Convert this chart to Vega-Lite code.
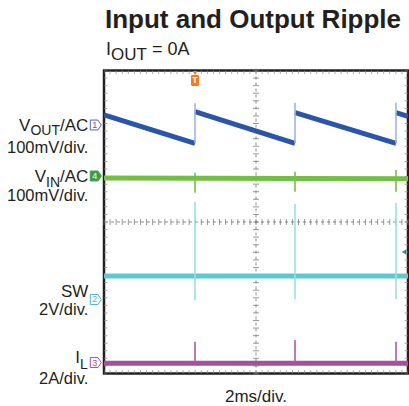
{
"$schema": "https://vega.github.io/schema/vega-lite/v6.json",
"width": 304, "height": 303,
"autosize": {"type": "none"},
"padding": {"left": 104, "top": 70.5, "right": 1, "bottom": 32.5},
"background": "#ffffff",
"config": {"view": {"stroke": "#231f20", "strokeWidth": 2.5}, "text": {"font": "Liberation Sans", "color": "#231f20", "baseline": "alphabetic"}},
"datasets": {
 "traces": [
  {"ch":"VOUT","seg":"a","t":0,"v":6.825},
  {"ch":"VOUT","seg":"a","t":2.993,"v":6.078},
  {"ch":"VOUT","seg":"b","t":2.993,"v":6.912},
  {"ch":"VOUT","seg":"b","t":6.283,"v":6.078},
  {"ch":"VOUT","seg":"c","t":6.283,"v":6.886},
  {"ch":"VOUT","seg":"c","t":9.605,"v":6.078},
  {"ch":"VOUT","seg":"d","t":9.605,"v":6.886},
  {"ch":"VOUT","seg":"d","t":10,"v":6.79},
  {"ch":"VIN","seg":"e","t":0,"v":5.16},
  {"ch":"VIN","seg":"e","t":10,"v":5.14},
  {"ch":"SW","seg":"f","t":0,"v":2.574},
  {"ch":"SW","seg":"f","t":10,"v":2.574},
  {"ch":"IL","seg":"g","t":0,"v":0.269},
  {"ch":"IL","seg":"g","t":10,"v":0.269}
 ],
 "edges": [
  {"ch":"VOUT","t":2.993,"v1":6.078,"v2":7.134},
  {"ch":"VOUT","t":6.283,"v1":6.078,"v2":7.15},
  {"ch":"VOUT","t":9.605,"v1":6.078,"v2":7.15},
  {"ch":"VIN","t":2.993,"v1":4.774,"v2":5.302},
  {"ch":"VIN","t":6.283,"v1":4.8,"v2":5.33},
  {"ch":"VIN","t":9.605,"v1":4.8,"v2":5.37},
  {"ch":"SW","t":2.993,"v1":1.94,"v2":4.536},
  {"ch":"SW","t":6.283,"v1":1.96,"v2":4.475},
  {"ch":"SW","t":9.605,"v1":1.96,"v2":4.51},
  {"ch":"IL","t":2.993,"v1":0.269,"v2":0.84},
  {"ch":"IL","t":6.283,"v1":0.269,"v2":0.885},
  {"ch":"IL","t":9.605,"v1":0.269,"v2":0.84}
 ],
 "grat": [{"g":0},{"g":0.2},{"g":0.4},{"g":0.6},{"g":0.8},{"g":1},{"g":1.2},{"g":1.4},{"g":1.6},{"g":1.8},{"g":2},{"g":2.2},{"g":2.4},{"g":2.6},{"g":2.8},{"g":3},{"g":3.2},{"g":3.4},{"g":3.6},{"g":3.8},{"g":4},{"g":4.2},{"g":4.4},{"g":4.6},{"g":4.8},{"g":5},{"g":5.2},{"g":5.4},{"g":5.6},{"g":5.8},{"g":6},{"g":6.2},{"g":6.4},{"g":6.6},{"g":6.8},{"g":7},{"g":7.2},{"g":7.4},{"g":7.6},{"g":7.8},{"g":8},{"g":8.2},{"g":8.4},{"g":8.6},{"g":8.8},{"g":9},{"g":9.2},{"g":9.4},{"g":9.6},{"g":9.8},{"g":10}],
 "chmark": [{"ch":"VOUT","num":"1","ref":6.561},{"ch":"VIN","num":"4","ref":5.215},{"ch":"SW","num":"2","ref":1.954},{"ch":"IL","num":"3","ref":0.29}]
},
"resolve": {"scale": {"color": "independent", "stroke": "independent"}},
"layer": [
 {"data": {"values": [{}]}, "mark": {"type": "rule", "color": "#8c8c8c", "strokeWidth": 1, "strokeDash": [3, 3]},
  "encoding": {"y": {"datum": 4, "type": "quantitative", "scale": {"domain": [0, 8], "nice": false, "zero": false}, "axis": null}}},
 {"data": {"values": [{}]}, "mark": {"type": "rule", "color": "#8c8c8c", "strokeWidth": 1, "strokeDash": [3, 3]},
  "encoding": {"x": {"datum": 5, "type": "quantitative", "scale": {"domain": [0, 10], "nice": false, "zero": false}, "axis": null}}},
 {"data": {"name": "grat"}, "mark": {"type": "tick", "orient": "vertical", "size": 6, "thickness": 1, "color": "#6e6e6e"},
  "encoding": {"x": {"field": "g", "type": "quantitative", "scale": {"domain": [0, 10], "nice": false, "zero": false}, "axis": null},
   "y": {"datum": 4, "type": "quantitative", "scale": {"domain": [0, 8], "nice": false, "zero": false}, "axis": null}}},
 {"data": {"name": "grat"}, "transform": [{"filter": "datum.g <= 8"}], "mark": {"type": "tick", "orient": "horizontal", "size": 6, "thickness": 1, "color": "#6e6e6e"},
  "encoding": {"y": {"field": "g", "type": "quantitative", "scale": {"domain": [0, 8], "nice": false, "zero": false}, "axis": null},
   "x": {"datum": 5, "type": "quantitative", "scale": {"domain": [0, 10], "nice": false, "zero": false}, "axis": null}}},
 {"data": {"name": "grat"}, "mark": {"type": "tick", "orient": "vertical", "size": 7, "thickness": 1, "color": "#8a8a8a", "clip": true},
  "encoding": {"x": {"field": "g", "type": "quantitative", "scale": {"domain": [0, 10], "nice": false, "zero": false}, "axis": null},
   "y": {"datum": 0, "type": "quantitative", "scale": {"domain": [0, 8], "nice": false, "zero": false}, "axis": null}}},
 {"data": {"name": "grat"}, "mark": {"type": "tick", "orient": "vertical", "size": 7, "thickness": 1, "color": "#8a8a8a", "clip": true},
  "encoding": {"x": {"field": "g", "type": "quantitative", "scale": {"domain": [0, 10], "nice": false, "zero": false}, "axis": null},
   "y": {"datum": 8, "type": "quantitative", "scale": {"domain": [0, 8], "nice": false, "zero": false}, "axis": null}}},
 {"data": {"name": "grat"}, "transform": [{"filter": "datum.g <= 8"}], "mark": {"type": "tick", "orient": "horizontal", "size": 7, "thickness": 1, "color": "#8a8a8a", "clip": true},
  "encoding": {"y": {"field": "g", "type": "quantitative", "scale": {"domain": [0, 8], "nice": false, "zero": false}, "axis": null},
   "x": {"datum": 0, "type": "quantitative", "scale": {"domain": [0, 10], "nice": false, "zero": false}, "axis": null}}},
 {"data": {"name": "grat"}, "transform": [{"filter": "datum.g <= 8"}], "mark": {"type": "tick", "orient": "horizontal", "size": 7, "thickness": 1, "color": "#8a8a8a", "clip": true},
  "encoding": {"y": {"field": "g", "type": "quantitative", "scale": {"domain": [0, 8], "nice": false, "zero": false}, "axis": null},
   "x": {"datum": 10, "type": "quantitative", "scale": {"domain": [0, 10], "nice": false, "zero": false}, "axis": null}}},
 {"data": {"name": "traces"}, "mark": {"type": "line", "strokeWidth": 5, "clip": true, "strokeCap": "butt"},
  "encoding": {
   "x": {"field": "t", "type": "quantitative", "scale": {"domain": [0, 10], "nice": false, "zero": false},
    "axis": {"values": [0,1,2,3,4,5,6,7,8,9,10], "title": null, "ticks": false, "labels": false, "domain": false, "grid": true, "gridColor": "#7a7a7a", "gridDash": [1.4, 6.2], "gridWidth": 1.3}},
   "y": {"field": "v", "type": "quantitative", "scale": {"domain": [0, 8], "nice": false, "zero": false},
    "axis": {"values": [0,1,2,3,4,5,6,7,8], "title": null, "ticks": false, "labels": false, "domain": false, "grid": true, "gridColor": "#7a7a7a", "gridDash": [1.4, 4.7], "gridWidth": 1.3}},
   "color": {"field": "ch", "type": "nominal", "scale": {"domain": ["VOUT","VIN","SW","IL"], "range": ["#2a55a8","#72bf44","#5fc7d3","#a3509d"]}, "legend": null},
   "detail": {"field": "seg", "type": "nominal"}
  }},
 {"data": {"name": "edges"}, "mark": {"type": "rule", "strokeWidth": 1.6},
  "encoding": {
   "x": {"field": "t", "type": "quantitative", "scale": {"domain": [0, 10], "nice": false, "zero": false}, "axis": null},
   "y": {"field": "v1", "type": "quantitative", "scale": {"domain": [0, 8], "nice": false, "zero": false}, "axis": null},
   "y2": {"field": "v2"},
   "color": {"field": "ch", "type": "nominal", "scale": {"domain": ["VOUT","VIN","SW","IL"], "range": ["#9ab6e4","#74c046","#9edde6","#ad5aa6"]}, "legend": null}
  }},
 {"data": {"values": [{}]}, "mark": {"type": "point", "shape": "triangle-down", "size": 22, "filled": true, "color": "#f47b20", "opacity": 1},
  "encoding": {"x": {"datum": 2.993, "type": "quantitative", "scale": {"domain": [0, 10], "nice": false, "zero": false}, "axis": null},
   "y": {"datum": 7.93, "type": "quantitative", "scale": {"domain": [0, 8], "nice": false, "zero": false}, "axis": null}}},
 {"data": {"values": [{}]}, "mark": {"type": "point", "shape": "M-0.5,-1L0.5,-1Q0.73,-1 0.73,-0.75L0.73,0.75Q0.73,1 0.5,1L-0.5,1Q-0.73,1 -0.73,0.75L-0.73,-0.75Q-0.73,-1 -0.5,-1Z", "size": 121, "filled": true, "color": "#f47b20", "opacity": 1},
  "encoding": {"x": {"datum": 2.993, "type": "quantitative", "scale": {"domain": [0, 10], "nice": false, "zero": false}, "axis": null},
   "y": {"datum": 7.736, "type": "quantitative", "scale": {"domain": [0, 8], "nice": false, "zero": false}, "axis": null}}},
 {"data": {"values": [{}]}, "mark": {"type": "text", "text": "T", "fontSize": 9, "fontWeight": "bold", "color": "#ffffff", "align": "center", "baseline": "middle"},
  "encoding": {"x": {"datum": 2.993, "type": "quantitative", "scale": {"domain": [0, 10], "nice": false, "zero": false}, "axis": null},
   "y": {"datum": 7.736, "type": "quantitative", "scale": {"domain": [0, 8], "nice": false, "zero": false}, "axis": null}}},
 {"data": {"values": [{}]}, "mark": {"type": "point", "shape": "triangle-left", "size": 30, "filled": true, "color": "#2b9aa0", "opacity": 1},
  "encoding": {"x": {"datum": 9.87, "type": "quantitative", "scale": {"domain": [0, 10], "nice": false, "zero": false}, "axis": null},
   "y": {"datum": 3.21, "type": "quantitative", "scale": {"domain": [0, 8], "nice": false, "zero": false}, "axis": null}}},
 {"data": {"name": "chmark"}, "mark": {"type": "point", "shape": "M-1,-0.9L0.4,-0.9L1,0L0.4,0.9L-1,0.9Z", "size": 121, "strokeWidth": 1, "opacity": 1},
  "encoding": {"x": {"datum": -0.27, "type": "quantitative", "scale": {"domain": [0, 10], "nice": false, "zero": false}, "axis": null},
   "y": {"field": "ref", "type": "quantitative", "scale": {"domain": [0, 8], "nice": false, "zero": false}, "axis": null},
   "stroke": {"field": "ch", "type": "nominal", "scale": {"domain": ["VOUT","VIN","SW","IL"], "range": ["#5b62b0","#3a9e44","#4fb5c0","#a3509d"]}, "legend": null},
   "fill": {"condition": {"test": "datum.ch === 'VIN'", "value": "#3a9e44"}, "value": "#ffffff"}}},
 {"data": {"name": "chmark"}, "mark": {"type": "text", "fontSize": 9, "align": "center", "baseline": "middle", "dx": -1},
  "encoding": {"x": {"datum": -0.27, "type": "quantitative", "scale": {"domain": [0, 10], "nice": false, "zero": false}, "axis": null},
   "y": {"field": "ref", "type": "quantitative", "scale": {"domain": [0, 8], "nice": false, "zero": false}, "axis": null},
   "text": {"field": "num"},
   "color": {"field": "ch", "type": "nominal", "scale": {"domain": ["VOUT","VIN","SW","IL"], "range": ["#5b62b0","#ffffff","#4fb5c0","#a3509d"]}, "legend": null}}},
 {"data": {"values": [{}]}, "mark": {"type": "text", "text": "Input and Output Ripple", "fontSize": 26, "fontWeight": "bold", "align": "left", "dx": 1},
  "encoding": {"x": {"datum": 0, "type": "quantitative", "scale": {"domain": [0, 10], "nice": false, "zero": false}, "axis": null},
   "y": {"datum": 9.109, "type": "quantitative", "scale": {"domain": [0, 8], "nice": false, "zero": false}, "axis": null}}},
 {"data": {"values": [{}]}, "mark": {"type": "text", "text": "I", "fontSize": 18, "align": "left", "dx": 2},
  "encoding": {"x": {"datum": 0, "type": "quantitative", "scale": {"domain": [0, 10], "nice": false, "zero": false}, "axis": null},
   "y": {"datum": 8.409, "type": "quantitative", "scale": {"domain": [0, 8], "nice": false, "zero": false}, "axis": null}}},
 {"data": {"values": [{}]}, "mark": {"type": "text", "text": "OUT", "fontSize": 17, "align": "left", "dx": 7},
  "encoding": {"x": {"datum": 0, "type": "quantitative", "scale": {"domain": [0, 10], "nice": false, "zero": false}, "axis": null},
   "y": {"datum": 8.277, "type": "quantitative", "scale": {"domain": [0, 8], "nice": false, "zero": false}, "axis": null}}},
 {"data": {"values": [{}]}, "mark": {"type": "text", "text": "= 0A", "fontSize": 18, "align": "left", "dx": 48},
  "encoding": {"x": {"datum": 0, "type": "quantitative", "scale": {"domain": [0, 10], "nice": false, "zero": false}, "axis": null},
   "y": {"datum": 8.409, "type": "quantitative", "scale": {"domain": [0, 8], "nice": false, "zero": false}, "axis": null}}},
 {"data": {"values": [{}]}, "mark": {"type": "text", "text": "/AC", "fontSize": 17, "align": "right", "dx": -15.7},
  "encoding": {"x": {"datum": 0, "type": "quantitative", "scale": {"domain": [0, 10], "nice": false, "zero": false}, "axis": null},
   "y": {"datum": 6.411, "type": "quantitative", "scale": {"domain": [0, 8], "nice": false, "zero": false}, "axis": null}}},
 {"data": {"values": [{}]}, "mark": {"type": "text", "text": "OUT", "fontSize": 14, "align": "right", "dx": -44},
  "encoding": {"x": {"datum": 0, "type": "quantitative", "scale": {"domain": [0, 10], "nice": false, "zero": false}, "axis": null},
   "y": {"datum": 6.297, "type": "quantitative", "scale": {"domain": [0, 8], "nice": false, "zero": false}, "axis": null}}},
 {"data": {"values": [{}]}, "mark": {"type": "text", "text": "V", "fontSize": 17, "align": "right", "dx": -73.6},
  "encoding": {"x": {"datum": 0, "type": "quantitative", "scale": {"domain": [0, 10], "nice": false, "zero": false}, "axis": null},
   "y": {"datum": 6.411, "type": "quantitative", "scale": {"domain": [0, 8], "nice": false, "zero": false}, "axis": null}}},
 {"data": {"values": [{}]}, "mark": {"type": "text", "text": "100mV/div.", "fontSize": 16.5, "align": "right", "dx": -15.7},
  "encoding": {"x": {"datum": 0, "type": "quantitative", "scale": {"domain": [0, 10], "nice": false, "zero": false}, "axis": null},
   "y": {"datum": 5.822, "type": "quantitative", "scale": {"domain": [0, 8], "nice": false, "zero": false}, "axis": null}}},
 {"data": {"values": [{}]}, "mark": {"type": "text", "text": "/AC", "fontSize": 17, "align": "right", "dx": -15.7},
  "encoding": {"x": {"datum": 0, "type": "quantitative", "scale": {"domain": [0, 10], "nice": false, "zero": false}, "axis": null},
   "y": {"datum": 5.043, "type": "quantitative", "scale": {"domain": [0, 8], "nice": false, "zero": false}, "axis": null}}},
 {"data": {"values": [{}]}, "mark": {"type": "text", "text": "IN", "fontSize": 14, "align": "right", "dx": -44},
  "encoding": {"x": {"datum": 0, "type": "quantitative", "scale": {"domain": [0, 10], "nice": false, "zero": false}, "axis": null},
   "y": {"datum": 4.911, "type": "quantitative", "scale": {"domain": [0, 8], "nice": false, "zero": false}, "axis": null}}},
 {"data": {"values": [{}]}, "mark": {"type": "text", "text": "V", "fontSize": 17, "align": "right", "dx": -58},
  "encoding": {"x": {"datum": 0, "type": "quantitative", "scale": {"domain": [0, 10], "nice": false, "zero": false}, "axis": null},
   "y": {"datum": 5.043, "type": "quantitative", "scale": {"domain": [0, 8], "nice": false, "zero": false}, "axis": null}}},
 {"data": {"values": [{}]}, "mark": {"type": "text", "text": "100mV/div.", "fontSize": 16.5, "align": "right", "dx": -15.7},
  "encoding": {"x": {"datum": 0, "type": "quantitative", "scale": {"domain": [0, 10], "nice": false, "zero": false}, "axis": null},
   "y": {"datum": 4.554, "type": "quantitative", "scale": {"domain": [0, 8], "nice": false, "zero": false}, "axis": null}}},
 {"data": {"values": [{}]}, "mark": {"type": "text", "text": "SW", "fontSize": 17, "align": "right", "dx": -15.7},
  "encoding": {"x": {"datum": 0, "type": "quantitative", "scale": {"domain": [0, 10], "nice": false, "zero": false}, "axis": null},
   "y": {"datum": 2.03, "type": "quantitative", "scale": {"domain": [0, 8], "nice": false, "zero": false}, "axis": null}}},
 {"data": {"values": [{}]}, "mark": {"type": "text", "text": "2V/div.", "fontSize": 16.5, "align": "right", "dx": -15.7},
  "encoding": {"x": {"datum": 0, "type": "quantitative", "scale": {"domain": [0, 10], "nice": false, "zero": false}, "axis": null},
   "y": {"datum": 1.555, "type": "quantitative", "scale": {"domain": [0, 8], "nice": false, "zero": false}, "axis": null}}},
 {"data": {"values": [{}]}, "mark": {"type": "text", "text": "L", "fontSize": 14, "align": "right", "dx": -16.2},
  "encoding": {"x": {"datum": 0, "type": "quantitative", "scale": {"domain": [0, 10], "nice": false, "zero": false}, "axis": null},
   "y": {"datum": 0.11, "type": "quantitative", "scale": {"domain": [0, 8], "nice": false, "zero": false}, "axis": null}}},
 {"data": {"values": [{}]}, "mark": {"type": "text", "text": "I", "fontSize": 17, "align": "right", "dx": -24},
  "encoding": {"x": {"datum": 0, "type": "quantitative", "scale": {"domain": [0, 10], "nice": false, "zero": false}, "axis": null},
   "y": {"datum": 0.28, "type": "quantitative", "scale": {"domain": [0, 8], "nice": false, "zero": false}, "axis": null}}},
 {"data": {"values": [{}]}, "mark": {"type": "text", "text": "2A/div.", "fontSize": 16.5, "align": "right", "dx": -15.7},
  "encoding": {"x": {"datum": 0, "type": "quantitative", "scale": {"domain": [0, 10], "nice": false, "zero": false}, "axis": null},
   "y": {"datum": -0.27, "type": "quantitative", "scale": {"domain": [0, 8], "nice": false, "zero": false}, "axis": null}}},
 {"data": {"values": [{}]}, "mark": {"type": "text", "text": "2ms/div.", "fontSize": 17, "align": "center", "dx": 0},
  "encoding": {"x": {"datum": 5, "type": "quantitative", "scale": {"domain": [0, 10], "nice": false, "zero": false}, "axis": null},
   "y": {"datum": -0.745, "type": "quantitative", "scale": {"domain": [0, 8], "nice": false, "zero": false}, "axis": null}}}
]
}
